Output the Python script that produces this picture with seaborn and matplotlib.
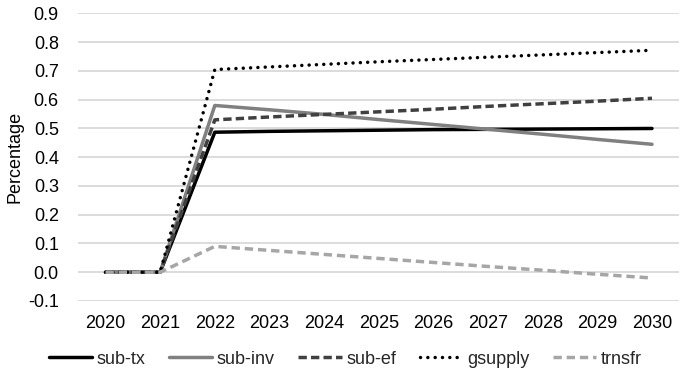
import numpy as np
import pandas as pd
import matplotlib
matplotlib.use("Agg")
import matplotlib.pyplot as plt
import seaborn as sns

# values
years = [2020, 2021, 2022, 2023, 2024, 2025, 2026, 2027, 2028, 2029, 2030]
sub_tx = [0.0, 0.0, 0.487, 0.490, 0.492, 0.494, 0.496, 0.497, 0.498, 0.499, 0.500]
sub_inv = [0.0, 0.0, 0.580, 0.565, 0.549, 0.531, 0.514, 0.497, 0.480, 0.462, 0.445]
sub_ef = [0.0, 0.0, 0.530, 0.540, 0.549, 0.558, 0.567, 0.577, 0.586, 0.595, 0.605]
gsupply = [0.0, 0.0, 0.705, 0.714, 0.723, 0.732, 0.740, 0.748, 0.756, 0.764, 0.772]
trnsfr = [0.0, 0.0, 0.090, 0.076, 0.062, 0.048, 0.034, 0.020, 0.007, -0.007, -0.020]
y_ticks = [-0.1, 0.0, 0.1, 0.2, 0.3, 0.4, 0.5, 0.6, 0.7, 0.8, 0.9]

sns.set_theme(style="white")
plt.rcParams['font.family'] = ['Liberation Sans', 'DejaVu Sans']

series = [
    ('sub-tx', sub_tx, '#000000', '-'),
    ('sub-inv', sub_inv, '#808080', '-'),
    ('sub-ef', sub_ef, '#404040', (0, (2.4, 1.2))),
    ('gsupply', gsupply, '#000000', (0, (0.01, 2.1))),
    ('trnsfr', trnsfr, '#A6A6A6', (0, (2.4, 1.4))),
]

fig = plt.figure(figsize=(6.8, 3.71), dpi=100)
ax = fig.add_axes([0.115, 0.1887, 0.884, 0.775])

for name, vals, col, ls in series:
    df = pd.DataFrame({'Year': years, 'Value': vals})
    sns.lineplot(data=df, x='Year', y='Value', ax=ax, color=col, linewidth=2.5,
                 label=name)
    line = ax.get_lines()[-1]
    line.set_linestyle(ls)
    if name == 'gsupply':
        line.set_dash_capstyle('round')

ax.set_xlim(2019.5, 2030.5)
ax.set_ylim(-0.1, 0.9)
ax.set_xticks(years)
ax.set_xticklabels([str(y) for y in years])
ax.set_yticks(y_ticks)
ax.set_yticklabels([f"{v:.1f}" for v in y_ticks])
ax.tick_params(axis='both', labelsize=13, colors='#000000', length=0)
ax.tick_params(axis='y', pad=14)
ax.tick_params(axis='x', pad=10)
ax.grid(axis='y', color='#D9D9D9', linewidth=1.3)
ax.grid(axis='x', visible=False)
for s in ax.spines.values():
    s.set_visible(False)
ax.set_xlabel('')
ax.set_ylabel('Percentage', fontsize=13, color='#000000', labelpad=3)

ax.legend_.remove()
handles, labels = ax.get_legend_handles_labels()
fig.legend(handles, labels, loc='lower center', bbox_to_anchor=(0.508, -0.035), ncol=5,
           frameon=False, fontsize=13, handlelength=2.4, handletextpad=0.25,
           columnspacing=1.3)

fig.savefig('out.png', dpi=100)
